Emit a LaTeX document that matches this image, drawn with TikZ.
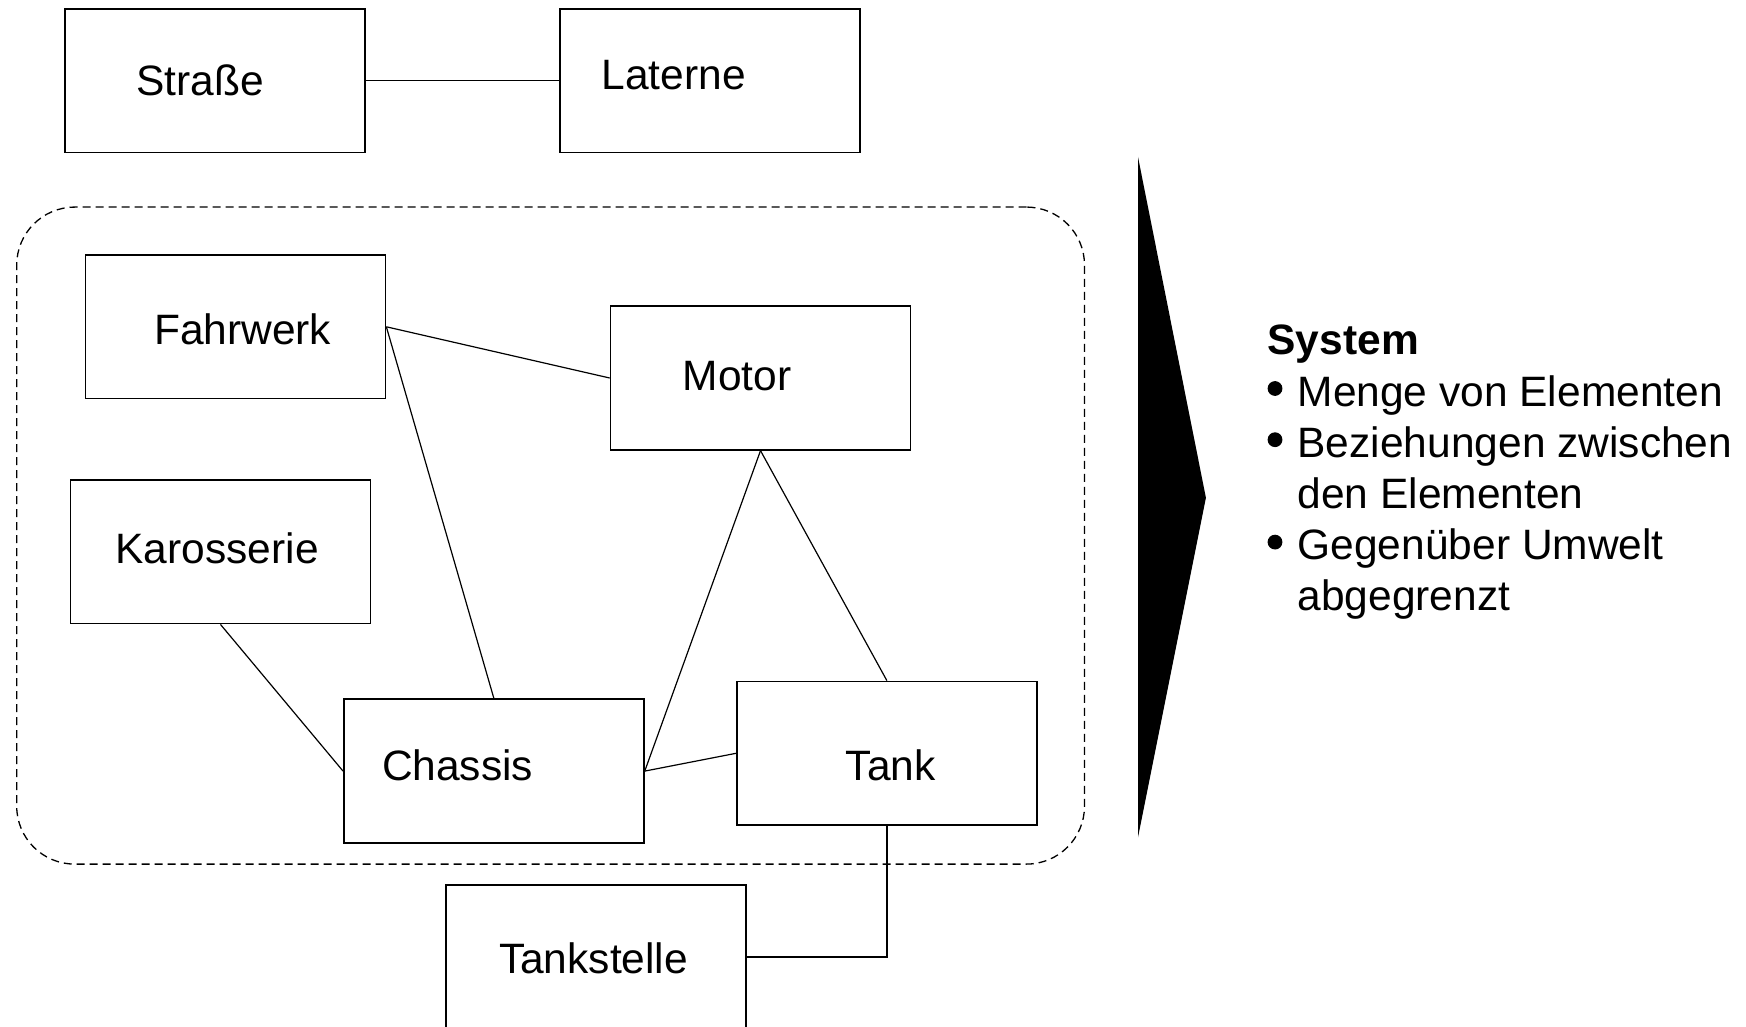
\documentclass[tikz,border=0pt]{standalone}
\usepackage{fontspec}
\setmainfont{Liberation Sans}
\begin{document}
\begin{tikzpicture}[x=0.5pt,y=-0.5pt,
  box/.style={draw,line width=0.85pt,minimum width=150pt,minimum height=71.8pt,inner sep=0pt},
  lbl/.style={anchor=base,inner sep=0pt,font=\fontsize{21.25}{25.6}\selectfont},
  conn/.style={line width=0.6pt},
  dot/.style={circle,fill=black,inner sep=0pt,minimum size=7.4pt},
  sysbound/.style={draw,dash pattern=on 4pt off 2.5pt,line width=0.65pt,rounded corners=29pt,
    minimum width=533.9pt,minimum height=328.5pt,inner sep=0pt}]
\clip (0,0) rectangle (1746,1027);
% system boundary
\node[sysbound] (sys) at (550.6,535.6) {};
% boxes
\node[box] (strasse) at (214.9,80.7) {};
\node[box] (laterne) at (709.9,80.7) {};
\node[box] (fahrwerk) at (235.5,326.8) {};
\node[box] (motor) at (760.5,378) {};
\node[box] (karosserie) at (220.5,551.8) {};
\node[box] (chassis) at (493.9,771.1) {};
\node[box] (tank) at (886.9,753.3) {};
\node[box] (tankstelle) at (596.3,957) {};
% labels
\node[lbl] (lstrasse) at (200.4,95.4) {Straße};
\node[lbl] (llaterne) at (673.7,89.8) {Laterne};
\node[lbl] (lfahrwerk) at (242.7,344.8) {Fahrwerk};
\node[lbl] (lmotor) at (737.1,390.5) {Motor};
\node[lbl] (lkarosserie) at (217.1,563) {Karosserie};
\node[lbl] (lchassis) at (457.6,780.2) {Chassis};
\node[lbl] (ltank) at (890.8,780.2) {Tank};
\node[lbl] (ltankstelle) at (593.5,973.9) {Tankstelle};
% connectors
\draw[conn] (strasse.east) -- (laterne.west);
\draw[conn] (fahrwerk.east) -- (motor.west);
\draw[conn] (fahrwerk.east) -- (chassis.north);
\draw[conn] (karosserie.south) -- (chassis.west);
\draw[conn] (motor.south) -- (chassis.east);
\draw[conn] (motor.south) -- (tank.north);
\draw[conn] (chassis.east) -- (tank.west);
\draw[conn] (tank.south) |- (tankstelle.east);
% arrow
\fill[black] (1138,157) -- (1205.9,497.7) -- (1138,837.4) -- cycle;
% text block
\node[lbl,anchor=base west,font=\fontsize{21.25}{25.6}\selectfont\bfseries] (systitle) at (1267.2,354.8) {System};
\node[dot] (b1) at (1275,388.5) {};
\node[lbl,anchor=base west] (t1) at (1297.2,406) {Menge von Elementen};
\node[dot] (b2) at (1275,439.7) {};
\node[lbl,anchor=base west] (t2) at (1297.2,457.2) {Beziehungen zwischen};
\node[lbl,anchor=base west] (t2b) at (1297.2,508.4) {den Elementen};
\node[dot] (b3) at (1275,542.1) {};
\node[lbl,anchor=base west] (t3) at (1297.2,559.6) {Gegenüber Umwelt};
\node[lbl,anchor=base west] (t3b) at (1297.2,610.8) {abgegrenzt};
\end{tikzpicture}
\end{document}
